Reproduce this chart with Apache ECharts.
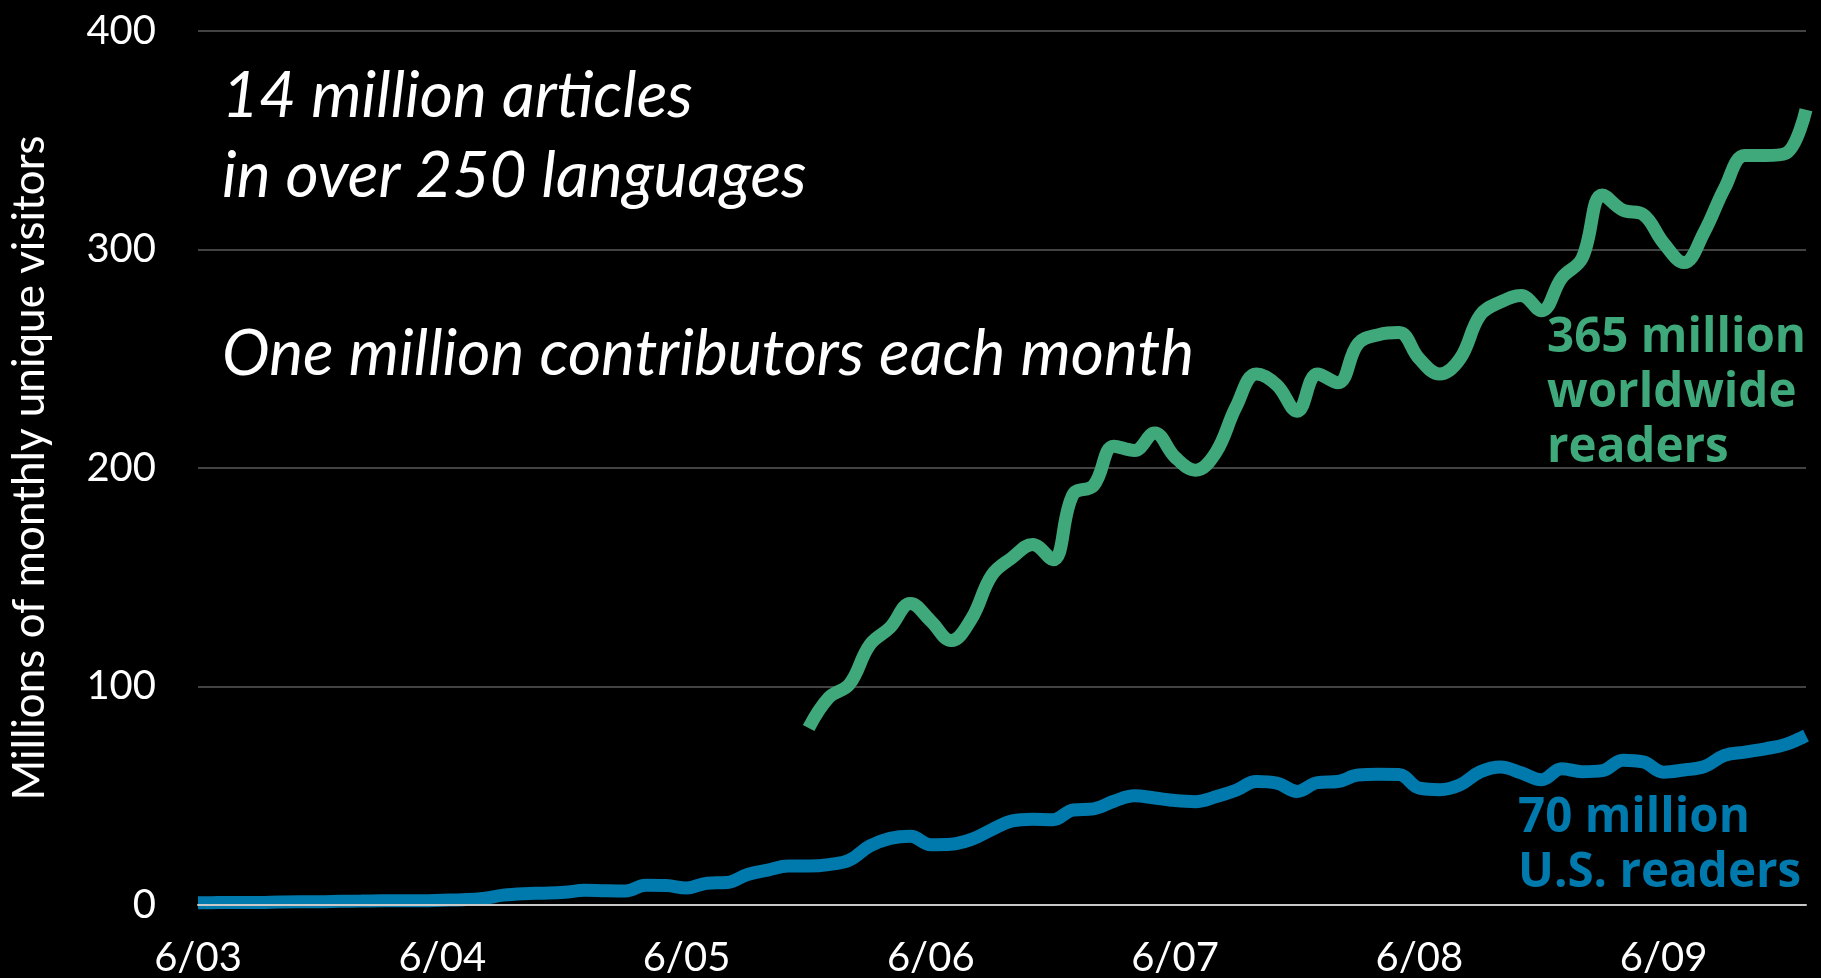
<!DOCTYPE html>
<html>
<head>
<meta charset="utf-8">
<script src="https://cdn.jsdelivr.net/npm/echarts@6/dist/echarts.min.js"></script>
<style>
html, body { margin: 0; padding: 0; background: #000; }
#chart { width: 1821px; height: 978px; }
</style>
</head>
<body>
<div id="chart"></div>
<script>
// x axis: one category per month, 6/03 .. 1/10; only June is labelled
var yearTicks = ['6/03', '6/04', '6/05', '6/06', '6/07', '6/08', '6/09'];
var months = [];
for (var i = 0; i < 80; i++) {
  var m = (5 + i) % 12 + 1;
  var y = 3 + Math.floor((5 + i) / 12);
  months.push(m + '/' + (y < 10 ? '0' + y : y));
}

// y axis ticks
var yTicks = [0, 100, 200, 300, 400];

// U.S. readers, millions (6/03 .. 1/10)
var usReaders = [
  1.0, 1.1, 1.2, 1.2, 1.4, 1.5, 1.5, 1.7, 1.8, 1.9, 2.0, 2.0, 2.2, 2.4,
  3.0, 4.5, 5.2, 5.4, 5.8, 6.7, 6.5, 6.4, 9.0, 8.9, 7.8, 10.0, 10.3,
  14, 16, 17.8, 17.8, 18.5, 20.5, 27, 30.5, 31.5, 27.6, 27.8, 30, 34.5,
  38.5, 39.3, 39, 43.5, 44, 47.5, 50, 49, 47.8, 47.3, 49.5, 52.5, 56.5,
  55.8, 52, 56, 56.5, 59.5, 59.8, 59.7, 53.5, 52.8, 55, 61, 63.2, 60.5,
  57.3, 62.4, 61, 61.5, 66.3, 65.5, 60.8, 61.8, 63.3, 68.5, 70, 71.5,
  73.5, 77.5
];

// worldwide readers, millions (12/05 .. 1/10)
var worldStart = '12/05';
var worldReaders = [
  81, 95, 101, 119, 127, 138, 130, 121, 131, 151, 159, 165, 158, 188,
  192, 210, 208, 216, 205, 199, 207, 228, 243, 238, 226, 243, 239, 257,
  261, 262, 250, 243, 250, 270, 276, 279, 272, 287, 296, 325, 318, 316,
  303, 294, 308, 328, 343, 343, 344, 364
];

var worldSeries = [];
var startIdx = months.indexOf(worldStart);
for (var k = 0; k < months.length; k++) {
  worldSeries.push(k < startIdx ? null : worldReaders[k - startIdx]);
}

var GREEN = '#3fa97b';
var BLUE = '#0079ad';

var chart = echarts.init(document.getElementById('chart'));
chart.setOption({
  backgroundColor: '#000',
  animation: false,
  grid: { left: 197, right: 15, top: 31, bottom: 73 },
  xAxis: {
    type: 'category',
    data: months,
    boundaryGap: false,
    axisTick: { show: false },
    axisLine: { show: true, lineStyle: { color: '#c8c8c8', width: 2 } },
    axisLabel: {
      interval: function (index, value) { return yearTicks.indexOf(value) >= 0; },
      color: '#fff',
      fontFamily: 'Lato',
      fontSize: 40,
      margin: 33
    },
    z: 5
  },
  yAxis: {
    type: 'value',
    min: yTicks[0],
    max: yTicks[yTicks.length - 1],
    interval: 100,
    name: 'Millions of monthly unique visitors',
    nameLocation: 'middle',
    nameRotate: 90,
    nameGap: 146,
    nameTextStyle: { color: '#fff', fontFamily: 'Lato', fontSize: 44 },
    axisLine: { show: false },
    axisTick: { show: false },
    axisLabel: { color: '#fff', fontFamily: 'Lato', fontSize: 40, margin: 42 },
    splitLine: { lineStyle: { color: '#5a5a5a', width: 1.5 } }
  },
  series: [
    {
      name: 'U.S. readers',
      type: 'line',
      data: usReaders,
      smooth: 0.4,
      showSymbol: false,
      lineStyle: { color: BLUE, width: 13 },
      z: 3
    },
    {
      name: 'worldwide readers',
      type: 'line',
      data: worldSeries,
      smooth: 0.4,
      showSymbol: false,
      connectNulls: false,
      lineStyle: { color: GREEN, width: 13 },
      z: 3
    }
  ],
  graphic: [
    { type: 'text', left: 222, top: 64,
      style: { text: '14 million articles', fill: '#fff', font: 'italic 64px Lato' } },
    { type: 'text', left: 222, top: 144,
      style: { text: 'in over 250 languages', fill: '#fff', font: 'italic 64px Lato' } },
    { type: 'text', left: 222, top: 322,
      style: { text: 'One million contributors each month', fill: '#fff', font: 'italic 64px Lato' } },
    { type: 'text', left: 1547, top: 311,
      style: { text: '365 million\nworldwide\nreaders', fill: GREEN, font: 'bold 47.5px "Open Sans"', lineHeight: 55 } },
    { type: 'text', left: 1518, top: 791,
      style: { text: '70 million\nU.S. readers', fill: BLUE, font: 'bold 47.5px "Open Sans"', lineHeight: 55 } }
  ]
});
</script>
</body>
</html>
